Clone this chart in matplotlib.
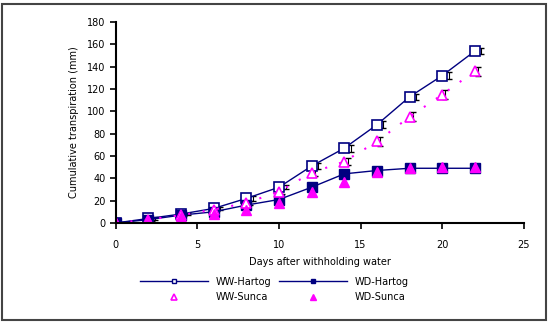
import numpy as np
import matplotlib.pyplot as plt
from matplotlib.patches import Rectangle
from matplotlib.lines import Line2D

days = [0, 2, 4, 6, 8, 10, 12, 14, 16, 18, 20, 22]
ww_hartog = [0, 4, 8, 13, 22, 32, 51, 67, 88, 113, 132, 154]
wd_hartog = [0, 3, 7, 10, 16, 21, 32, 44, 47, 49, 49, 49]
ww_sunca = [0, 3, 7, 12, 18, 28, 45, 55, 73, 95, 115, 136]
wd_sunca = [0, 2, 5, 8, 12, 18, 28, 37, 46, 49, 50, 50]
err_ww_h = [0, 1, 1, 1, 2, 2, 3, 3, 3, 3, 3, 3]
err_ww_s = [0, 1, 1, 1, 2, 2, 3, 3, 4, 4, 4, 4]

navy = '#000080'
pink = '#ff00ff'

fig = plt.figure(figsize=(5.49, 3.25), dpi=100)
ax = fig.add_axes([0.211, 0.314, 0.743, 0.618])

ax.errorbar(np.array(days) + 0.4, ww_hartog, yerr=err_ww_h, fmt='none', ecolor='black',
            elinewidth=0.8, capsize=2.5)
ax.errorbar(np.array(days) + 0.2, ww_sunca, yerr=err_ww_s, fmt='none', ecolor='black',
            elinewidth=0.8, capsize=2.5)

ax.plot(days, ww_hartog, color=navy, lw=1, marker='s', ms=6.5, mfc='white',
        mec=navy, mew=1.2)
ax.plot(days, wd_hartog, color=navy, lw=1, marker='s', ms=6.5, mfc=navy, mec=navy)
ax.plot(days, ww_sunca, color=pink, lw=1.5, ls=(0, (1, 6)), marker='^', ms=7.5,
        mfc='white', mec=pink, mew=1.2)
ax.plot(days, wd_sunca, color=pink, ls='none', marker='^', ms=7.5, mfc=pink, mec=pink)

ax.set_xlim(0, 25)
ax.set_ylim(0, 180)
ax.set_xticks(range(0, 26, 5))
ax.set_yticks(range(0, 181, 20))
for s in ['top', 'right']:
    ax.spines[s].set_visible(False)
ax.spines['left'].set_linewidth(1.5)
ax.spines['bottom'].set_linewidth(1.5)
ax.tick_params(direction='out', length=4, width=1.2, labelsize=7)
ax.tick_params(axis='x', pad=8)
ax.set_xlabel('Days after withholding water', fontsize=7, labelpad=5)
ax.set_ylabel('Cumulative transpiration (mm)', fontsize=7, labelpad=6)

h1 = Line2D([], [], color=navy, lw=1, marker='s', ms=3, mfc='white', mec=navy)
h2 = Line2D([], [], color=navy, lw=1, marker='s', ms=3, mfc=navy, mec=navy)
h3 = Line2D([], [], ls='none', marker='^', ms=4, mfc='white', mec=pink, mew=1.2)
h4 = Line2D([], [], ls='none', marker='^', ms=4, mfc=pink, mec=pink)
fig.legend([h1, h3, h2, h4], ['WW-Hartog', 'WW-Sunca', 'WD-Hartog', 'WD-Sunca'],
           ncol=2, loc='center', bbox_to_anchor=(0.5, 0.11), frameon=False,
           fontsize=7, handlelength=7, columnspacing=0.8, labelspacing=0.55,
           handletextpad=0.8)

fig.patches.append(Rectangle((0.004, 0.015), 0.99, 0.972, transform=fig.transFigure,
                             fill=False, edgecolor='#444444', lw=1.5))

fig.savefig('out.png', dpi=100)
